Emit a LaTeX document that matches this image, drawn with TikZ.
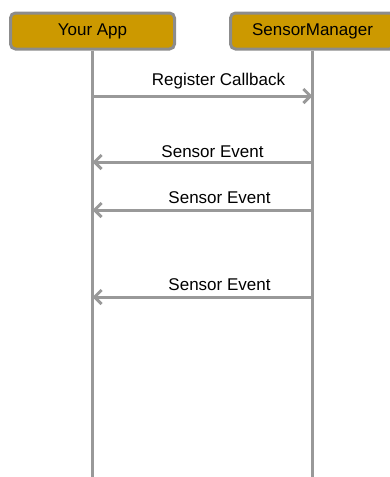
\documentclass[tikz,border=0pt]{standalone}
\usepackage{fontspec}
\setmainfont{Liberation Sans}
\usetikzlibrary{positioning,arrows.meta}
\definecolor{boxfill}{RGB}{204,153,0}
\definecolor{boxline}{RGB}{140,140,140}
\definecolor{linegray}{RGB}{153,153,153}
\tikzset{
  actor/.style={draw=boxline, line width=3pt, fill=boxfill, rounded corners=5pt,
    minimum width=164pt, minimum height=36pt, inner sep=0pt,
    font=\fontsize{17}{20}\selectfont},
  lifeline/.style={draw=linegray, line width=3pt},
  msg/.style={draw=linegray, line width=3pt, -{Straight Barb[length=7pt,width=14pt]}},
  msglabel/.style={anchor=base, inner sep=0pt, font=\fontsize{17}{20}\selectfont}
}
\begin{document}
\begin{tikzpicture}[x=1pt,y=1pt]
                \useasboundingbox (0,0) rectangle (390,-477);
                \node[actor] (app) at (92.5,-31) {Your App};
                \node[actor, right=53pt of app] (mgr) {SensorManager};
                \coordinate (appEnd) at (app.south |- 0,-477);
                \coordinate (mgrEnd) at (mgr.south |- 0,-477);
                \draw[lifeline] (app.south) -- (appEnd);
                \draw[lifeline] (mgr.south) -- (mgrEnd);
                % messages along the lifelines
                \coordinate (reg) at (app.south |- 0,-96);
                \coordinate (ev1) at (mgr.south |- 0,-162);
                \coordinate (ev2) at (mgr.south |- 0,-210);
                \coordinate (ev3) at (mgr.south |- 0,-297);
                \draw[msg] (reg) -- (reg -| mgr.south)
                    node[msglabel, midway, xshift=16pt, yshift=11pt] {Register Callback};
                \draw[msg] (ev1) -- (ev1 -| app.south)
                    node[msglabel, midway, xshift=10pt, yshift=5pt] {Sensor Event};
                \draw[msg] (ev2) -- (ev2 -| app.south)
                    node[msglabel, midway, xshift=17pt, yshift=7pt] {Sensor Event};
                \draw[msg] (ev3) -- (ev3 -| app.south)
                    node[msglabel, midway, xshift=17pt, yshift=7pt] {Sensor Event};
            \end{tikzpicture}
\end{document}
